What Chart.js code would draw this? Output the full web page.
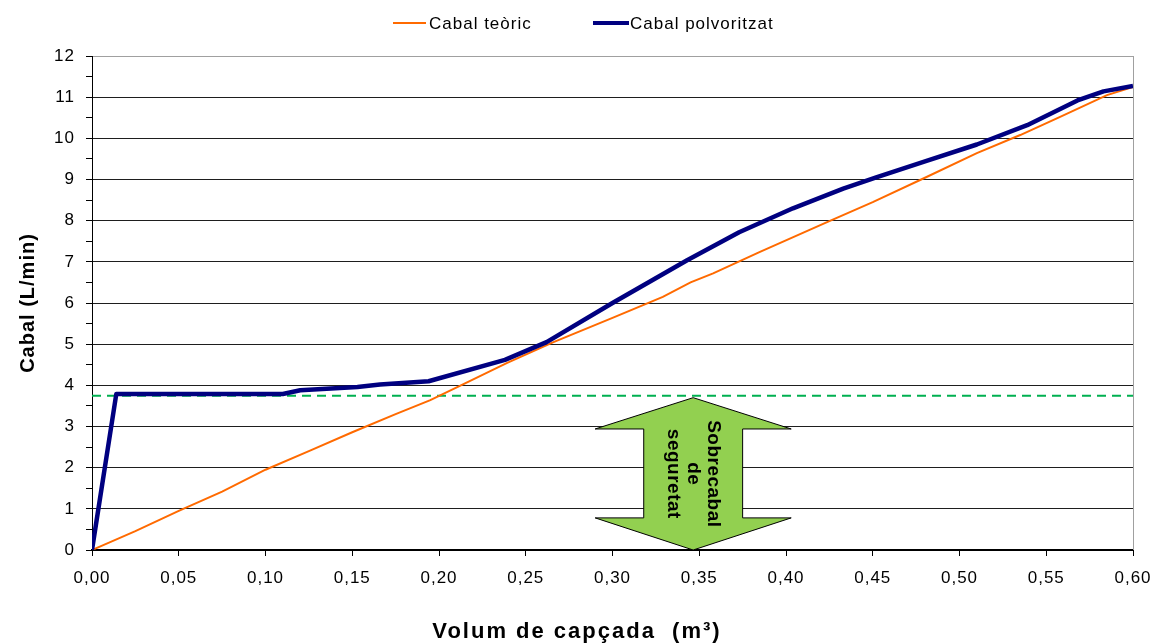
<!DOCTYPE html>
<html>
<head>
<meta charset="utf-8">
<script src="https://cdn.jsdelivr.net/npm/chart.js@4/dist/chart.umd.min.js"></script>
<style>
  html, body { margin: 0; padding: 0; background: #fff; }
  #wrap { width: 1155px; height: 644px; }
</style>
</head>
<body>
<div id="wrap"><canvas id="c" width="1155" height="644"></canvas></div>
<script>
// Volum de capçada (m3) i cabal (L/min)
const volumTeoric = [0, 0.025, 0.05, 0.075, 0.10, 0.125, 0.15, 0.175, 0.195, 0.215, 0.239, 0.266, 0.300, 0.329, 0.345, 0.358, 0.385, 0.424, 0.450, 0.481, 0.510, 0.535, 0.558, 0.585, 0.600];
const cabalTeoric  = [0, 0.46, 0.95, 1.42, 1.95, 2.40, 2.86, 3.30, 3.64, 4.05, 4.54, 5.05, 5.64, 6.15, 6.50, 6.72, 7.24, 7.97, 8.45, 9.06, 9.64, 10.08, 10.52, 11.05, 11.25];

const volumPolv = [0, 0.014, 0.110, 0.120, 0.153, 0.166, 0.194, 0.238, 0.262, 0.300, 0.343, 0.373, 0.404, 0.433, 0.452, 0.481, 0.510, 0.539, 0.568, 0.583, 0.600];
const cabalPolv = [0, 3.79, 3.79, 3.88, 3.96, 4.02, 4.10, 4.62, 5.05, 6.00, 7.04, 7.72, 8.30, 8.78, 9.05, 9.45, 9.85, 10.32, 10.92, 11.14, 11.27];

// Cabal mínim de seguretat
const cabalSeguretat = 3.75;
const volumRang = [0, 0.60];

const seriesNames = ['Cabal teòric', 'Cabal polvoritzat'];
const xTicks = [0, 0.05, 0.10, 0.15, 0.20, 0.25, 0.30, 0.35, 0.40, 0.45, 0.50, 0.55, 0.60];
const yTicks = [0, 1, 2, 3, 4, 5, 6, 7, 8, 9, 10, 11, 12];
const arrowLabel = ['Sobrecabal', 'de', 'seguretat'];
const xTitle = 'Volum de capçada  (m³)';
const yTitle = 'Cabal (L/min)';

// Fletxa doble: marge entre el cabal de seguretat i zero
const arrowShape = { xc: 0.3465, headHalf: 0.0565, shaftHalf: 0.0285, yTop: 3.70, yShoulder: 2.94, yBase: 0.78, yBottom: 0 };

const FONT = '"Liberation Sans", Arial, sans-serif';
const ORANGE = '#ff6a00';
const NAVY = '#000080';

const toPts = (xs, ys) => xs.map((x, i) => ({ x, y: ys[i] }));

const extrasPlugin = {
  id: 'extras',
  beforeDraw(chart) {
    // slightly wider text spacing for all labels
    chart.ctx.letterSpacing = '1px';
  },
  beforeDatasetsDraw(chart) {
    const { ctx, chartArea: a } = chart;
    ctx.save();
    ctx.strokeStyle = '#a0a0a0';
    ctx.lineWidth = 1;
    ctx.beginPath();
    ctx.moveTo(a.right + 0.5, a.top);
    ctx.lineTo(a.right + 0.5, a.bottom);
    ctx.stroke();
    ctx.restore();
  },
  afterDatasetsDraw(chart) {
    const { ctx } = chart;
    const xs = chart.scales.x, ys = chart.scales.y;
    const s = arrowShape;
    const px = v => xs.getPixelForValue(v), py = v => ys.getPixelForValue(v);
    ctx.save();
    ctx.beginPath();
    ctx.moveTo(px(s.xc), py(s.yTop));
    ctx.lineTo(px(s.xc + s.headHalf), py(s.yShoulder));
    ctx.lineTo(px(s.xc + s.shaftHalf), py(s.yShoulder));
    ctx.lineTo(px(s.xc + s.shaftHalf), py(s.yBase));
    ctx.lineTo(px(s.xc + s.headHalf), py(s.yBase));
    ctx.lineTo(px(s.xc), py(s.yBottom));
    ctx.lineTo(px(s.xc - s.headHalf), py(s.yBase));
    ctx.lineTo(px(s.xc - s.shaftHalf), py(s.yBase));
    ctx.lineTo(px(s.xc - s.shaftHalf), py(s.yShoulder));
    ctx.lineTo(px(s.xc - s.headHalf), py(s.yShoulder));
    ctx.closePath();
    ctx.fillStyle = '#92d050';
    ctx.fill();
    ctx.strokeStyle = '#000';
    ctx.lineWidth = 1;
    ctx.stroke();

    // text rotated clockwise, first line on the right
    const cx = px(s.xc), cy = (py(s.yTop) + py(s.yBottom)) / 2;
    ctx.translate(cx, cy);
    ctx.rotate(Math.PI / 2);
    ctx.fillStyle = '#000';
    ctx.font = 'bold 19px ' + FONT;
    ctx.letterSpacing = '0.5px';
    ctx.textAlign = 'center';
    ctx.textBaseline = 'middle';
    const lh = 20;
    arrowLabel.forEach((t, i) => {
      ctx.fillText(t, 0, (i - (arrowLabel.length - 1) / 2) * lh);
    });
    ctx.restore();
  },
  afterDraw(chart) {
    const { ctx } = chart;
    // legend
    const items = [
      { x0: 393, x1: 426, tx: 429, color: ORANGE, w: 2, label: seriesNames[0] },
      { x0: 593, x1: 629, tx: 630, color: NAVY, w: 4, label: seriesNames[1] }
    ];
    const y = 23;
    ctx.save();
    ctx.font = '17px ' + FONT;
    ctx.letterSpacing = '1px';
    ctx.textBaseline = 'middle';
    ctx.textAlign = 'left';
    items.forEach(it => {
      ctx.strokeStyle = it.color;
      ctx.lineWidth = it.w;
      ctx.beginPath();
      ctx.moveTo(it.x0, y);
      ctx.lineTo(it.x1, y);
      ctx.stroke();
      ctx.fillStyle = '#000';
      ctx.fillText(it.label, it.tx, y + 1);
    });

    // x axis title, centred on the page
    ctx.font = 'bold 22px ' + FONT;
    ctx.letterSpacing = '2px';
    ctx.textAlign = 'center';
    ctx.fillText(xTitle, 577, 632);
    ctx.restore();
  }
};

new Chart(document.getElementById('c'), {
  type: 'line',
  data: {
    datasets: [
      {
        label: seriesNames[0],
        data: toPts(volumTeoric, cabalTeoric),
        borderColor: ORANGE,
        borderWidth: 2,
        pointRadius: 0,
        tension: 0,
        fill: false,
        order: 2
      },
      {
        label: seriesNames[1],
        data: toPts(volumPolv, cabalPolv),
        borderColor: NAVY,
        borderWidth: 4.5,
        pointRadius: 0,
        tension: 0,
        fill: false,
        borderJoinStyle: 'round',
        order: 1
      },
      {
        label: 'seguretat',
        data: volumRang.map(x => ({ x, y: cabalSeguretat })),
        borderColor: '#00b050',
        borderWidth: 2,
        borderDash: [9, 6],
        pointRadius: 0,
        fill: false,
        order: 3
      }
    ]
  },
  options: {
    responsive: false,
    animation: false,
    layout: { padding: { top: 56, right: 22, left: 0, bottom: 0 } },
    plugins: { legend: { display: false }, tooltip: { enabled: false } },
    scales: {
      x: {
        type: 'linear',
        min: 0,
        max: 0.6,
        afterFit(scale) {
          scale.height = 94;
          scale.paddingRight = 0;
          scale.paddingLeft = 0;
        },
        afterBuildTicks(scale) { scale.ticks = xTicks.map(v => ({ value: v })); },
        ticks: {
          autoSkip: false,
          maxRotation: 0,
          padding: 12,
          color: '#000',
          font: { family: FONT, size: 17 },
          callback: v => Number(v).toFixed(2).replace('.', ',')
        },
        grid: { drawOnChartArea: false, drawTicks: true, tickLength: 6, tickColor: '#000', tickWidth: 1 },
        border: { display: true, color: '#000', width: 2 },
        title: { display: false }
      },
      y: {
        type: 'linear',
        min: 0,
        max: 12,
        afterFit(scale) { scale.width = 92; },
        afterBuildTicks(scale) {
          const t = [];
          yTicks.forEach((v, i) => {
            t.push({ value: v });
            if (i < yTicks.length - 1) t.push({ value: v + 0.5 });
          });
          scale.ticks = t;
        },
        ticks: {
          autoSkip: false,
          padding: 11,
          color: '#000',
          font: { family: FONT, size: 17 },
          callback: v => (Number.isInteger(v) ? String(v) : '')
        },
        grid: {
          drawTicks: true,
          tickLength: 6,
          tickColor: '#000',
          lineWidth: 1,
          color: c => {
            const v = c.tick ? c.tick.value : 0;
            if (!Number.isInteger(v) || v === 0) return 'rgba(0,0,0,0)';
            if (v === 12) return '#a0a0a0';
            return '#1e1e1e';
          }
        },
        border: { display: true, color: '#000', width: 1 },
        title: {
          display: true,
          text: yTitle,
          color: '#000',
          font: { family: FONT, size: 20, weight: 'bold' },
          padding: { top: 16, bottom: 0 }
        }
      }
    }
  },
  plugins: [extrasPlugin]
});
</script>
</body>
</html>
